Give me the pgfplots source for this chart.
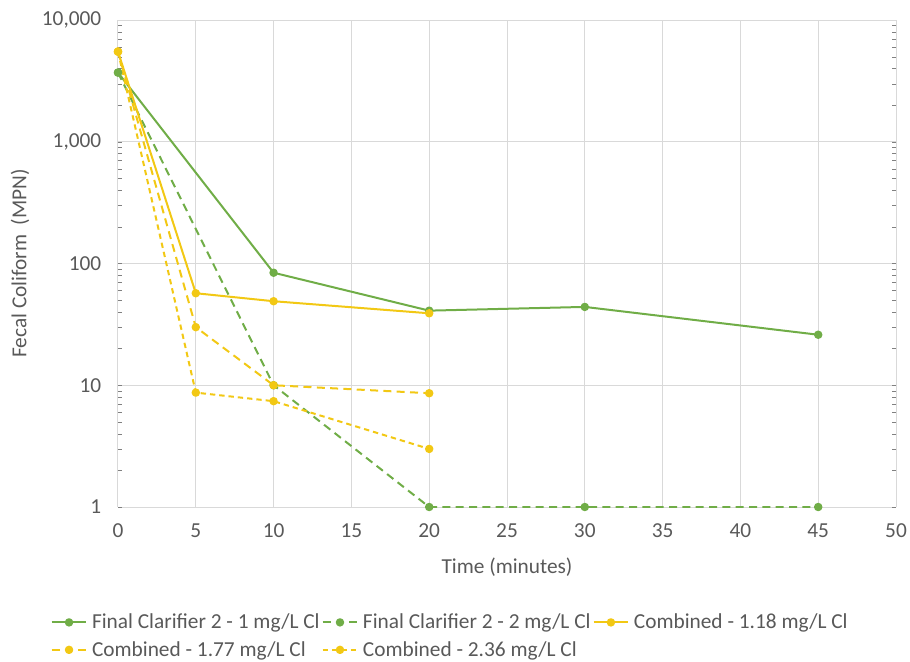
\documentclass[border=0pt]{standalone}
\usepackage{pgfplots}
\pgfplotsset{compat=1.18}
\usepackage{fontspec}
\setmainfont{Carlito}
\definecolor{fcgreen}{RGB}{112,173,71}
\definecolor{cmbyellow}{RGB}{242,200,20}
\definecolor{txtgray}{RGB}{89,89,89}
\definecolor{gridgray}{RGB}{217,217,217}

\begin{document}
\begin{tikzpicture}
\path[use as bounding box] (-88.5pt,-115.5pt) rectangle (594pt,380.25pt);
\begin{axis}[
    scale only axis,
    width=583.5pt, height=365.25pt,
    ymode=log,
    xmin=0, xmax=50, ymin=1, ymax=10000,
    xtick={0,5,...,50},
    ytick={1,10,100,1000,10000},
    yticklabels={1,10,100,{1,000},{10,000}},
    grid=major,
    grid style={gridgray, line width=0.75pt},
    axis line style={draw=none},
    major tick length=0pt,
    /pgf/number format/assume math mode=true,
    tick label style={font=\fontsize{16}{19}\selectfont, text=txtgray},
    xticklabel style={yshift=-9pt},
    yticklabel style={xshift=-9pt},
    xlabel={Time (minutes)},
    ylabel={Fecal Coliform\ \ (MPN)},
    label style={font=\fontsize{16}{19}\selectfont, text=txtgray},
    xlabel style={at={(axis description cs:0.5,-0.123)}, anchor=center},
    ylabel style={at={(axis description cs:-0.126,0.5)}, anchor=center},
    legend columns=3,
    legend cell align=left,
    legend style={at={(axis description cs:0.427,-0.215)}, anchor=north,
        draw=none, font=\fontsize{16}{19}\selectfont, text=txtgray,
        inner sep=0pt, row sep=5pt,
        nodes={inner sep=1.5pt},
        /tikz/every even column/.append style={column sep=0pt},
        /tikz/every odd column/.append style={column sep=2pt}},
    legend image code/.code={
        \draw[#1,mark=none] (0pt,0pt) -- (26pt,0pt);
        \draw[#1,only marks] plot coordinates {(13pt,0pt)};
    },
    every axis plot/.append style={line width=1.5pt, mark=*, mark size=2.4pt, line join=round},
]
\addplot[color=fcgreen, mark options={solid}]
    coordinates {(0,3700) (10,84) (20,41) (30,44) (45,26)};
\addlegendentry{Final Clarifier 2 - 1 mg/L Cl}
\addplot[color=fcgreen, dash pattern=on 6pt off 4pt, mark options={solid}]
    coordinates {(0,3700) (10,10) (20,1) (30,1) (45,1)};
\addlegendentry{Final Clarifier 2 - 2 mg/L Cl}
\addplot[color=cmbyellow, mark options={solid}]
    coordinates {(0,5500) (5,57) (10,49) (20,39)};
\addlegendentry{Combined - 1.18 mg/L Cl}
\addplot[color=cmbyellow, dash pattern=on 6pt off 4pt, mark options={solid}]
    coordinates {(0,5500) (5,30) (10,10) (20,8.6)};
\addlegendentry{Combined - 1.77 mg/L Cl}
\addplot[color=cmbyellow, dash pattern=on 4pt off 3pt, mark options={solid}]
    coordinates {(0,5500) (5,8.7) (10,7.4) (20,3)};
\addlegendentry{Combined - 2.36 mg/L Cl}
\end{axis}
\end{tikzpicture}
\end{document}
